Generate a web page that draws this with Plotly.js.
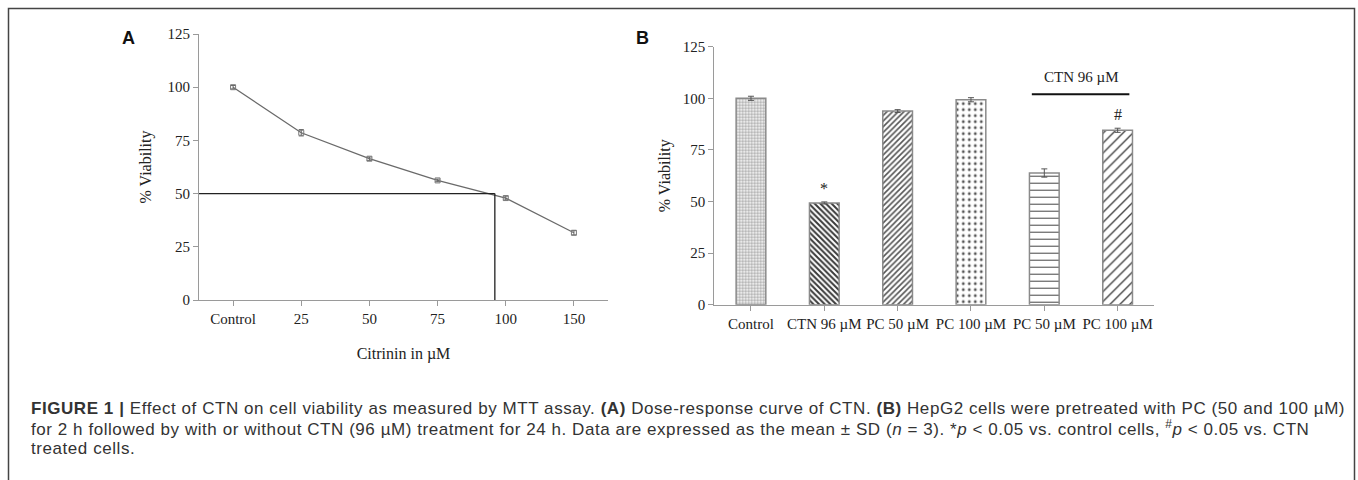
<!DOCTYPE html>
<html><head><meta charset="utf-8">
<script src="https://cdn.plot.ly/plotly-3.0.1.min.js"></script>
<style>html,body{margin:0;padding:0;background:#fff;} #chart{width:1358px;height:480px;}</style>
</head><body><div id="chart"></div>
<script>
// ---- Panel A data ----
const doseLabels = ['Control', '25', '50', '75', '100', '150'];
const doseValues = [0, 25, 50, 75, 100, 150];
const viabilityA = [100, 78.6, 66.4, 56.2, 47.9, 31.6];
const errorA = [0.8, 1.5, 0.8, 0.6, 0.9, 1.0];
const ic50Dose = 96;
const ic50Viability = 50;

// ---- Panel B data ----
const groupLabels = ['Control', 'CTN 96 µM', 'PC 50 µM', 'PC 100 µM', 'PC 50 µM', 'PC 100 µM'];
const viabilityB = [100, 49.3, 93.8, 99.3, 63.8, 84.5];
const errorB = [1.0, 0.5, 0.7, 1.0, 2.0, 1.0];
const sigMarks = ['', '*', '', '', '', '#'];
const ctnGroupLabel = 'CTN 96 µM';
const ctnGroupIdx = [4, 5];

// ---- Caption ----
const captionLines = [
  '<b>FIGURE 1 |</b> Effect of CTN on cell viability as measured by MTT assay. <b>(A)</b> Dose-response curve of CTN. <b>(B)</b> HepG2 cells were pretreated with PC (50 and 100 µM)',
  'for 2 h followed by with or without CTN (96 µM) treatment for 24 h. Data are expressed as the mean ± SD (<i>n</i> = 3). *<i>p</i> &lt; 0.05 vs. control cells, <sup>#</sup><i>p</i> &lt; 0.05 vs. CTN',
  'treated cells.'
];

const W = 1358, H = 480;
const px = x => x / W;
const py = y => 1 - y / H;
const serif = 'Liberation Serif, Times New Roman, serif';
const sans = 'Liberation Sans, Arial, sans-serif';
const idxA = doseLabels.map((_, i) => i);
const idxB = groupLabels.map((_, i) => i);

// IC50 position on the category-index axis (interpolated between neighbouring doses)
let ic50Pos = 0;
for (let i = 0; i < doseValues.length - 1; i++) {
  if (ic50Dose >= doseValues[i] && ic50Dose <= doseValues[i + 1]) {
    ic50Pos = i + (ic50Dose - doseValues[i]) / (doseValues[i + 1] - doseValues[i]);
  }
}

const traceA = {
  type: 'scatter', mode: 'lines+markers', x: idxA, y: viabilityA, xaxis: 'x', yaxis: 'y',
  line: {color: '#6a6a6a', width: 1.3},
  marker: {symbol: 'square-open', size: 5, color: '#7a7a7a', line: {width: 1}},
  error_y: {type: 'data', array: errorA, visible: true, color: '#666', thickness: 1, width: 2.5},
  hoverinfo: 'skip', showlegend: false
};

const traceB = {
  type: 'bar', x: idxB, y: viabilityB, xaxis: 'x2', yaxis: 'y2', width: 0.405,
  marker: {
    color: '#ffffff',
    line: {color: '#8a8a8a', width: 1.5},
    pattern: {
      shape: ['.', '\\', '/', '.', '-', '/'],
      size: [3, 4, 4, 6, 7, 7],
      solidity: [0.5, 0.5, 0.4, 0.18, 0.15, 0.2],
      fgcolor: ['#a8a8a8', '#3a3a3a', '#555555', '#555555', '#444444', '#444444'],
      bgcolor: '#ffffff',
      fillmode: 'replace'
    }
  },
  error_y: {type: 'data', array: errorB, visible: true, color: '#555', thickness: 1, width: 3},
  hoverinfo: 'skip', showlegend: false
};

const axisCommon = {
  showline: true, linecolor: '#9a9a9a', linewidth: 1, ticks: 'outside', ticklen: 5,
  tickcolor: '#9a9a9a', showgrid: false, zeroline: false, fixedrange: true,
  tickfont: {family: serif, size: 15, color: '#222'}
};

const annotations = [
  {text: '<b>A</b>', x: px(128), y: py(38), xref: 'paper', yref: 'paper', xanchor: 'center', yanchor: 'middle',
   showarrow: false, font: {family: sans, size: 18, color: '#111'}},
  {text: '<b>B</b>', x: px(642), y: py(38), xref: 'paper', yref: 'paper', xanchor: 'center', yanchor: 'middle',
   showarrow: false, font: {family: sans, size: 18, color: '#111'}},
  {text: ctnGroupLabel, x: (ctnGroupIdx[0] + ctnGroupIdx[1]) / 2, xref: 'x2', y: py(77), yref: 'paper',
   xanchor: 'center', yanchor: 'middle', showarrow: false, font: {family: serif, size: 15, color: '#222'}}
];
sigMarks.forEach((m, i) => {
  if (m) annotations.push({text: m, x: i, xref: 'x2', y: viabilityB[i] + errorB[i], yref: 'y2',
    xanchor: 'center', yanchor: 'bottom', yshift: 3, showarrow: false, font: {family: serif, size: 16, color: '#222'}});
});
const capY = [408, 428, 448];
captionLines.forEach((t, i) => annotations.push({
  text: t, x: px(29), y: py(capY[i]), xref: 'paper', yref: 'paper', xanchor: 'left', yanchor: 'middle',
  showarrow: false, align: 'left', font: {family: sans, size: 17, color: '#333'}
}));

const shapes = [
  // figure frame
  {type: 'rect', xref: 'paper', yref: 'paper', x0: px(8.5), y0: py(8.5), x1: px(1354.5), y1: py(495),
   line: {color: '#444', width: 1.5}, fillcolor: 'rgba(0,0,0,0)'},
  // IC50 guide lines
  {type: 'line', xref: 'x', yref: 'y', x0: -0.5, x1: ic50Pos, y0: ic50Viability, y1: ic50Viability,
   line: {color: '#222', width: 1.3}},
  {type: 'line', xref: 'x', yref: 'y', x0: ic50Pos, x1: ic50Pos, y0: 0, y1: ic50Viability,
   line: {color: '#222', width: 1.3}},
  // CTN group bracket line
  {type: 'line', xref: 'x2', yref: 'paper', x0: ctnGroupIdx[0] - 0.17, x1: ctnGroupIdx[1] + 0.16,
   y0: py(94.3), y1: py(94.3), line: {color: '#111', width: 2}}
];

const layout = {
  width: W, height: H, margin: {l: 0, r: 0, t: 0, b: 0},
  paper_bgcolor: '#fff', plot_bgcolor: '#fff', showlegend: false,
  xaxis: Object.assign({}, axisCommon, {
    domain: [px(199), px(608)], range: [-0.5, 5.5], tickvals: idxA, ticktext: doseLabels, anchor: 'y',
    title: {text: 'Citrinin in µM', font: {family: serif, size: 16, color: '#222'}, standoff: 21}
  }),
  yaxis: Object.assign({}, axisCommon, {
    domain: [py(300), py(34)], range: [0, 125], dtick: 25, anchor: 'x',
    title: {text: '% Viability', font: {family: serif, size: 16, color: '#222'}, standoff: 11}
  }),
  xaxis2: Object.assign({}, axisCommon, {
    domain: [px(714.3), px(1154.3)], range: [-0.5, 5.5], tickvals: idxB, ticktext: groupLabels, anchor: 'y2'
  }),
  yaxis2: Object.assign({}, axisCommon, {
    domain: [py(304.7), py(46.7)], range: [0, 125], dtick: 25, anchor: 'x2',
    title: {text: '% Viability', font: {family: serif, size: 16, color: '#222'}, standoff: 8}
  }),
  annotations: annotations,
  shapes: shapes
};

Plotly.newPlot('chart', [traceA, traceB], layout, {staticPlot: true, displayModeBar: false}).then(gd => {
  // small letter-spacing so the first caption line spans the figure width like the reference
  const texts = Array.from(gd.querySelectorAll('.annotation-text'))
    .filter(t => t.textContent.startsWith('FIGURE') || t.textContent.startsWith('for 2 h') || t.textContent.startsWith('treated'));
  const first = texts.find(t => t.textContent.startsWith('FIGURE'));
  if (first) {
    const w = first.getBBox().width;
    const target = 1343 - 29;
    const ls = Math.max(0, (target - w) / first.textContent.length);
    texts.forEach(t => { t.style.letterSpacing = ls.toFixed(2) + 'px'; });
  }
});
</script></body></html>
